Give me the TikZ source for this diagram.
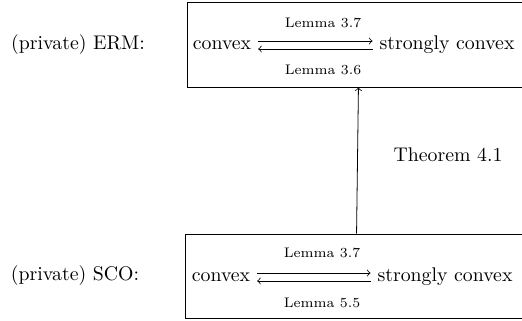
\documentclass[tikz,border=0pt]{standalone}
\usepackage{amsmath,amssymb}
\usetikzlibrary{fit}

\begin{document}
\begin{tikzpicture}[x=.505pt,y=-.505pt,
		frame/.style={draw,inner sep=0pt,fit={#1}},
		lem/.style={font=\scriptsize}]
		\useasboundingbox (0,0) rectangle (522,320);
		% (private) ERM
		\node (ermlab) at (78,45){(private) ERM:};
		\node[frame={(187,2) (531,87)}] (erm){};
		\node (cvxE) at (222,45){convex};
		\node (scE) at (447,45){strongly convex};
		\draw[->] ([yshift=2pt]cvxE.east) -- ([yshift=2pt]scE.west);
		\draw[->] ([yshift=-2pt]scE.west) -- ([yshift=-2pt]cvxE.east);
		\node[lem] (lemEa) at (323,23){Lemma 3.7};
		\node[lem] (lemEb) at (323,70){Lemma 3.6};
		% (private) SCO
		\node (scolab) at (75,276){(private) SCO:};
		\node[frame={(185,234) (527,318)}] (sco){};
		\node (cvxS) at (221,277){convex};
		\node (scS) at (445,277){strongly convex};
		\draw[->] ([yshift=2pt]cvxS.east) -- ([yshift=2pt]scS.west);
		\draw[->] ([yshift=-2pt]scS.west) -- ([yshift=-2pt]cvxS.east);
		\node[lem] (lemSa) at (322,253){Lemma 3.7};
		\node[lem] (lemSb) at (322,303){Lemma 5.5};
		% reduction
		\draw[->] (sco) -- (erm);
		\node (thm) at (448,155){Theorem 4.1};
	\end{tikzpicture}
\end{document}
